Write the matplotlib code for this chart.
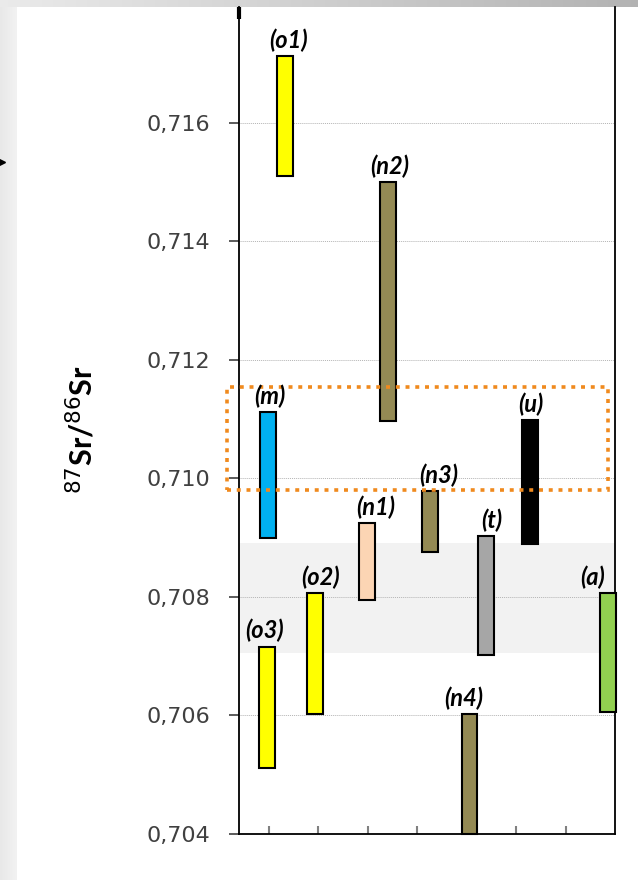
import matplotlib
matplotlib.use("Agg")
import matplotlib.pyplot as plt
import numpy as np
from matplotlib.patches import Rectangle
from matplotlib.ticker import FuncFormatter, FixedLocator

# ---------------- data ----------------
labels = ['(o3)', '(o1)', '(m)', '(o2)', '(n1)', '(n2)', '(n3)', '(n4)', '(t)', '(u)', '(a)']
xpos = [0.96, 1.32, 0.98, 1.93, 2.98, 3.40, 4.26, 5.05, 5.38, 6.27, 7.85]
sr_low = [0.70512, 0.71510, 0.70900, 0.70602, 0.70795, 0.71097, 0.70875, 0.70400, 0.70702, 0.70890, 0.70606]
sr_high = [0.70716, 0.71712, 0.71111, 0.70806, 0.70925, 0.71500, 0.70978, 0.70602, 0.70903, 0.71098, 0.70806]
colors = ['#FFFF00', '#FFFF00', '#00B0F0', '#FFFF00', '#FCD5B4', '#948A54',
          '#948A54', '#948A54', '#A6A6A6', '#000000', '#92D050']
seawater_band = (0.70706, 0.70891)
highlight_box = (0.70980, 0.71154)
yticks = [0.704, 0.706, 0.708, 0.710, 0.712, 0.714, 0.716]
xticks = [1, 2, 3, 4, 5, 6, 7]

# label horizontal nudges (pixels) - layout only
label_dx = [-3, 4, 2, 5, 9, 2, 8, -6, 6, 1, -15]

W, H, DPI = 638, 880, 100
fig = plt.figure(figsize=(W / DPI, H / DPI), dpi=DPI)
fig.patch.set_facecolor('white')

# ---------- background decoration ----------
bg = fig.add_axes([0, 0, 1, 1], zorder=-10)
bg.axis('off')
top_grad = np.linspace(0.92, 0.70, 256).reshape(1, -1)
bg.imshow(np.dstack([top_grad] * 3), extent=(0, W, 7, 0), aspect='auto')
left_grad = np.linspace(0.91, 0.95, 256).reshape(1, -1)
bg.imshow(np.dstack([left_grad] * 3), extent=(0, 17, H, 7), aspect='auto')
bg.plot([1.5], [162], marker='>', color='black', markersize=5)
bg.set_xlim(0, W)
bg.set_ylim(H, 0)

# ---------- main axes ----------
ax = fig.add_axes([239 / W, 46 / H, 376 / W, 827 / H])
ax.set_xlim(0.394, 7.99)
ax.set_ylim(0.704, 0.71795)

ax.axhspan(seawater_band[0], seawater_band[1], color='#F2F2F2', zorder=0.2, lw=0)
ax.set_axisbelow(True)
ax.yaxis.grid(True, linestyle=(0, (1, 1)), color='#B4B4B4', linewidth=0.7)
ax.xaxis.grid(False)

heights = [h - l for l, h in zip(sr_low, sr_high)]
ax.bar(xpos, heights, bottom=sr_low, width=0.32, color=colors,
       edgecolor='black', linewidth=1.5, zorder=3, clip_on=False)

for x, top, lab, dx in zip(xpos, sr_high, labels, label_dx):
    ax.annotate(lab, xy=(x, top), xytext=(dx * 0.72, 3),
                textcoords='offset points', ha='center', va='bottom',
                fontsize=17, fontweight='bold', fontstyle='italic',
                family=['Lato', 'DejaVu Sans'], color='black', zorder=5,
                annotation_clip=False)

ax.add_patch(Rectangle((0.145, highlight_box[0]), 7.855 - 0.145,
                       highlight_box[1] - highlight_box[0], fill=False,
                       edgecolor='#F08A1E', linewidth=2.6,
                       linestyle=(0, (1.1, 1.6)), clip_on=False, zorder=4))

ax.yaxis.set_major_locator(FixedLocator(yticks))
ax.yaxis.set_major_formatter(FuncFormatter(lambda v, p: f'{v:.3f}'.replace('.', ',')))
ax.xaxis.set_major_locator(FixedLocator(xticks))
ax.tick_params(axis='y', direction='out', length=7, width=1.2, color='#404040',
               labelsize=16, labelcolor='#404040', pad=14)
ax.tick_params(axis='x', direction='in', length=6, width=1.5, color='#808080',
               labelbottom=False)

for s in ['left', 'right', 'bottom']:
    ax.spines[s].set_color('black')
    ax.spines[s].set_linewidth(1.3)
ax.spines['top'].set_visible(False)

# small broken-axis mark at top of the left spine
ax.plot([0, 0], [0.9855, 1.0], transform=ax.transAxes, color='black',
        linewidth=3, clip_on=False, zorder=6, solid_capstyle='butt')

fig.text(81 / W, 1 - 430 / H, r'$^{87}$Sr/$^{86}$Sr', rotation=90,
         ha='center', va='center', fontsize=22, fontweight='bold',
         family=['Lato', 'DejaVu Sans'], color='black')

fig.savefig('out.png', dpi=DPI)
